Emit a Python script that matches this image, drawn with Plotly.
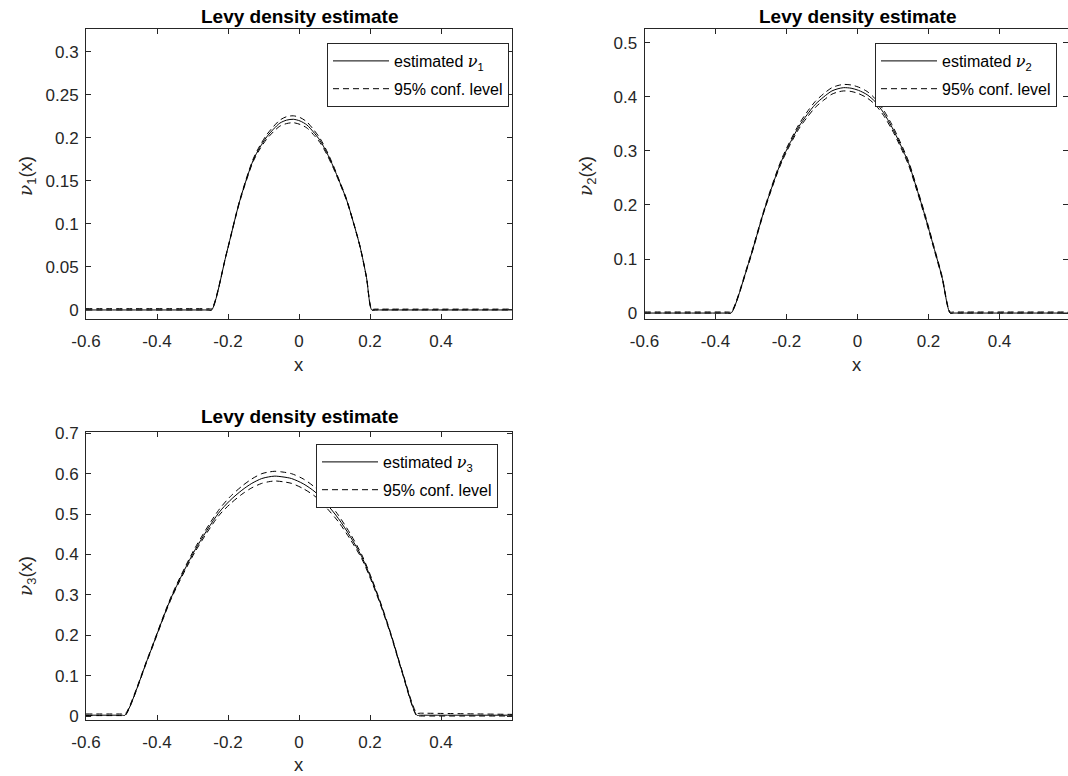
import plotly.graph_objects as go

# ---------------- data ----------------
x1 = [-0.6, -0.256, -0.246, -0.204, -0.166, -0.129, -0.110, -0.091, -0.072, -0.054, -0.035, -0.016, 0.003,
      0.022, 0.040, 0.059, 0.078, 0.097, 0.115, 0.134, 0.153, 0.172, 0.190, 0.205, 0.215, 0.6]
est1 = [0, 0, 0, 0.066, 0.128, 0.174, 0.189, 0.201, 0.210, 0.217, 0.2205, 0.2215, 0.2195,
        0.215, 0.207, 0.197, 0.183, 0.166, 0.148, 0.128, 0.102, 0.0735, 0.038, 0, 0, 0]
up1 = [0.0015, 0.0015, 0.0015, 0.0665, 0.129, 0.1755, 0.191, 0.2035, 0.213, 0.2205, 0.2245, 0.2255, 0.2235,
       0.2185, 0.2100, 0.1995, 0.185, 0.1675, 0.149, 0.129, 0.1025, 0.074, 0.0385, 0.001, 0.001, 0.001]
lo1 = [0, 0, 0, 0.0655, 0.127, 0.1725, 0.187, 0.1985, 0.207, 0.2135, 0.2165, 0.2175, 0.2155,
       0.2115, 0.204, 0.1945, 0.181, 0.1645, 0.147, 0.127, 0.1015, 0.073, 0.0375, 0, 0, 0]

x2 = [-0.6, -0.366, -0.356, -0.307, -0.260, -0.213, -0.166, -0.142, -0.119, -0.095, -0.072, -0.055, -0.039,
      -0.018, 0.003, 0.027, 0.050, 0.073, 0.097, 0.120, 0.144, 0.167, 0.191, 0.214, 0.238, 0.261, 0.271, 0.6]
est2 = [0, 0, 0, 0.092, 0.196, 0.283, 0.344, 0.367, 0.386, 0.400, 0.411, 0.415, 0.417,
        0.416, 0.412, 0.404, 0.391, 0.371, 0.344, 0.313, 0.277, 0.230, 0.178, 0.124, 0.067, 0, 0, 0]
up2 = [0.002, 0.002, 0.002, 0.094, 0.198, 0.286, 0.348, 0.372, 0.3915, 0.406, 0.417, 0.421, 0.423,
       0.422, 0.418, 0.410, 0.3965, 0.376, 0.3485, 0.317, 0.2805, 0.233, 0.181, 0.1265, 0.069, 0.002, 0.002, 0.002]
lo2 = [0, 0, 0, 0.090, 0.194, 0.280, 0.340, 0.362, 0.3805, 0.394, 0.405, 0.409, 0.411,
       0.410, 0.406, 0.398, 0.3855, 0.366, 0.3395, 0.309, 0.2735, 0.227, 0.175, 0.1215, 0.065, 0, 0, 0]

x3 = [-0.6, -0.500, -0.490, -0.424, -0.359, -0.293, -0.227, -0.194, -0.161, -0.133, -0.105, -0.086, -0.068,
      -0.045, -0.021, 0.012, 0.045, 0.078, 0.111, 0.144, 0.177, 0.205, 0.233, 0.261, 0.289, 0.332, 0.342, 0.6]
est3 = [0.002, 0.002, 0.002, 0.147, 0.295, 0.411, 0.502, 0.534, 0.559, 0.576, 0.588, 0.592, 0.594,
        0.592, 0.588, 0.575, 0.555, 0.525, 0.489, 0.445, 0.394, 0.336, 0.270, 0.196, 0.114, 0.002, 0.002, 0.002]
up3 = [0.005, 0.005, 0.005, 0.149, 0.298, 0.416, 0.509, 0.543, 0.569, 0.587, 0.600, 0.604, 0.606,
       0.604, 0.600, 0.587, 0.566, 0.535, 0.497, 0.452, 0.399, 0.340, 0.273, 0.198, 0.116, 0.007, 0.007, 0.004]
lo3 = [0.001, 0.001, 0.001, 0.145, 0.292, 0.406, 0.495, 0.525, 0.549, 0.565, 0.576, 0.580, 0.582,
       0.580, 0.576, 0.563, 0.544, 0.515, 0.481, 0.438, 0.389, 0.332, 0.267, 0.194, 0.112, 0.0, 0.0, 0.0]

xtick_vals = [-0.6, -0.4, -0.2, 0, 0.2, 0.4]
xtick_text = ["-0.6", "-0.4", "-0.2", "0", "0.2", "0.4"]
ytick_vals1 = [0, 0.05, 0.1, 0.15, 0.2, 0.25, 0.3]
ytick_text1 = ["0", "0.05", "0.1", "0.15", "0.2", "0.25", "0.3"]
ytick_vals2 = [0, 0.1, 0.2, 0.3, 0.4, 0.5]
ytick_text2 = ["0", "0.1", "0.2", "0.3", "0.4", "0.5"]
ytick_vals3 = [0, 0.1, 0.2, 0.3, 0.4, 0.5, 0.6, 0.7]
ytick_text3 = ["0", "0.1", "0.2", "0.3", "0.4", "0.5", "0.6", "0.7"]

title_text = "Levy density estimate"
legend_est = ["estimated <span style='font-family:DejaVu Serif'><i>ν</i></span><sub>%d</sub>" % i for i in (1, 2, 3)]
legend_conf = "95% conf. level"
ylabels = ["<span style='font-family:DejaVu Serif'><i>ν</i></span><sub>%d</sub>(x)" % i for i in (1, 2, 3)]

# ---------------- layout helpers ----------------
W, H = 1068, 776
def px(p):
    return p / W
def py(p):
    return 1 - p / H

AX = "#262626"
FONT = "Liberation Sans, Arial, sans-serif"
DASH = "6px,4px"

fig = go.Figure()

panels = [
    dict(x=x1, est=est1, up=up1, lo=lo1, xa="x", ya="y", leg="legend"),
    dict(x=x2, est=est2, up=up2, lo=lo2, xa="x2", ya="y2", leg="legend2"),
    dict(x=x3, est=est3, up=up3, lo=lo3, xa="x3", ya="y3", leg="legend3"),
]
for i, p in enumerate(panels):
    fig.add_trace(go.Scatter(x=p["x"], y=p["est"], mode="lines", xaxis=p["xa"], yaxis=p["ya"],
                             line=dict(color="black", width=1, shape="spline", smoothing=0.8),
                             name=legend_est[i], legendgroup="est%d" % i,
                             legend=p["leg"], showlegend=True))
    fig.add_trace(go.Scatter(x=p["x"], y=p["up"], mode="lines", xaxis=p["xa"], yaxis=p["ya"],
                             line=dict(color="black", width=1, dash=DASH, shape="spline", smoothing=0.8),
                             name=legend_conf, legendgroup="conf%d" % i,
                             legend=p["leg"], showlegend=True))
    fig.add_trace(go.Scatter(x=p["x"], y=p["lo"], mode="lines", xaxis=p["xa"], yaxis=p["ya"],
                             line=dict(color="black", width=1, dash=DASH, shape="spline", smoothing=0.8),
                             name=legend_conf, legendgroup="conf%d" % i,
                             legend=p["leg"], showlegend=False))

def xaxis(domain, rng, anchor):
    return dict(domain=domain, range=rng, anchor=anchor, tickvals=xtick_vals, ticktext=xtick_text,
                ticks="inside", ticklen=5, tickcolor=AX, showline=True, linecolor=AX, linewidth=1,
                mirror="ticks", showgrid=False, zeroline=False, automargin=False,
                ticklabelstandoff=7,
                tickfont=dict(family=FONT, size=17, color=AX))

def yaxis(domain, rng, anchor, vals, text):
    return dict(domain=domain, range=rng, anchor=anchor, tickvals=vals, ticktext=text,
                ticks="inside", ticklen=5, tickcolor=AX, showline=True, linecolor=AX, linewidth=1,
                mirror="ticks", showgrid=False, zeroline=False, automargin=False,
                ticklabelstandoff=3,
                tickfont=dict(family=FONT, size=17, color=AX))

xd1 = [px(86), px(512)]
xd2 = [px(644.5), 1.0]
yd1 = [py(319), py(29.3)]
yd3 = [py(720), py(431.7)]

def legend(right, top):
    return dict(x=px(right), y=py(top), xanchor="right", yanchor="top", bgcolor="white",
                bordercolor=AX, borderwidth=1, font=dict(family=FONT, size=16, color="black"),
                itemwidth=56, traceorder="grouped", tracegroupgap=4)

annotations = []
for cx, cy in [(299, 16), (857, 16), (299, 416)]:
    annotations.append(dict(x=px(cx), y=py(cy), xref="paper", yref="paper", text="<b>" + title_text + "</b>",
                            showarrow=False, font=dict(family=FONT, size=19, color="black"),
                            xanchor="center", yanchor="middle"))
for cx, cy in [(299, 364), (857, 364), (299, 764)]:
    annotations.append(dict(x=px(cx), y=py(cy), xref="paper", yref="paper", text="x",
                            showarrow=False, font=dict(family=FONT, size=18.5, color=AX),
                            xanchor="center", yanchor="middle"))
for i, (cx, cy) in enumerate([(27, 176), (587, 176), (27, 576)]):
    annotations.append(dict(x=px(cx), y=py(cy), xref="paper", yref="paper", text=ylabels[i],
                            showarrow=False, font=dict(family=FONT, size=18.5, color=AX),
                            textangle=-90, xanchor="center", yanchor="middle"))

fig.update_layout(
    template="none",
    width=W, height=H, margin=dict(l=0, r=0, t=0, b=0, autoexpand=False),
    paper_bgcolor="white", plot_bgcolor="white",
    xaxis=xaxis(xd1, [-0.6, 0.6], "y"),
    yaxis=yaxis(yd1, [-0.0105, 0.326], "x", ytick_vals1, ytick_text1),
    xaxis2=xaxis(xd2, [-0.6, 0.593], "y2"),
    yaxis2=yaxis(yd1, [-0.011, 0.525], "x2", ytick_vals2, ytick_text2),
    xaxis3=xaxis(xd1, [-0.6, 0.6], "y3"),
    yaxis3=yaxis(yd3, [-0.0099, 0.704], "x3", ytick_vals3, ytick_text3),
    legend=legend(509, 43),
    legend2=legend(1057, 43),
    legend3=legend(498, 444),
    annotations=annotations,
)

fig.write_html("out.html")
